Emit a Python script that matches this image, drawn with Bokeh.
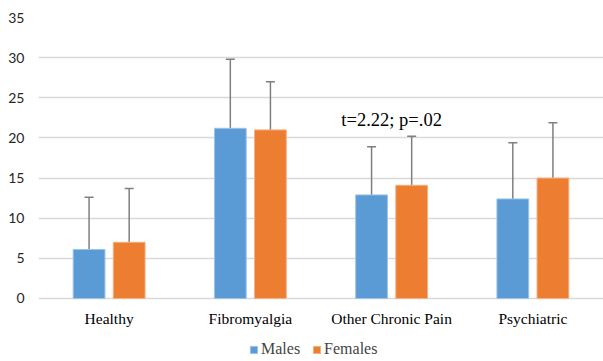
from bokeh.plotting import figure
from bokeh.models import ColumnDataSource, FactorRange, Range1d, Whisker, TeeHead, Legend, LegendItem, FixedTicker
from bokeh.transform import dodge
from bokeh.core.properties import value
from bokeh.embed import file_html
from bokeh.resources import INLINE

categories = ["Healthy", "Fibromyalgia", "Other Chronic Pain", "Psychiatric"]
males = [6.1, 21.2, 12.9, 12.4]
males_sd = [6.5, 8.6, 6.0, 7.0]
females = [7.0, 21.0, 14.1, 15.0]
females_sd = [6.7, 6.0, 6.1, 6.9]
y_ticks = [0, 5, 10, 15, 20, 25, 30, 35]
annotation = "t=2.22; p=.02"
annotation_cat = "Other Chronic Pain"
annotation_y = 22.2

src = ColumnDataSource(dict(
    cat=categories,
    males=males,
    males_top=[m + s for m, s in zip(males, males_sd)],
    females=females,
    females_top=[f + s for f, s in zip(females, females_sd)],
))

# frame extends below zero to leave room for category labels and legend
p = figure(width=603, height=361, x_range=FactorRange(*categories), y_range=Range1d(-7.85, 35),
           output_backend="svg", toolbar_location=None, x_axis_location=None,
           min_border_left=38, min_border_right=0, min_border_top=17, min_border_bottom=0)
p.outline_line_color = None
p.background_fill_color = "white"

OFF = 0.142
W = 0.225
BLUE = "#5B9BD5"
ORANGE = "#ED7D31"

rm = p.vbar(x=dodge("cat", -OFF, range=p.x_range), top="males", width=W, source=src,
            fill_color=BLUE, line_color="#9DC3E6", line_width=1)
rf = p.vbar(x=dodge("cat", OFF, range=p.x_range), top="females", width=W, source=src,
            fill_color=ORANGE, line_color="#F4B183", line_width=1)

for off, lo, hi in [(-OFF, "males", "males_top"), (OFF, "females", "females_top")]:
    w = Whisker(base=dodge("cat", off, range=p.x_range), lower=lo, upper=hi, source=src,
                dimension="height", line_color="#7F7F7F", line_width=1.5,
                lower_head=None,
                upper_head=TeeHead(size=9, line_color="#7F7F7F", line_width=1.5))
    p.add_layout(w)

# category labels under the baseline
p.text(x="cat", y=-2.5, text="cat", source=src, text_align="center", text_baseline="middle",
       text_font=value("Liberation Serif"), text_font_size="15.5px", text_color="#000000")

p.text(x=[annotation_cat], y=[annotation_y], text=[annotation], text_align="center",
       text_baseline="alphabetic", text_font=value("Liberation Serif"),
       text_font_size="18.5px", text_color="#000000")

p.xgrid.grid_line_color = None
p.ygrid.grid_line_color = "#D9D9D9"
p.ygrid.grid_line_width = 1.5
p.yaxis.ticker = FixedTicker(ticks=y_ticks)
p.yaxis.axis_line_color = None
p.yaxis.major_tick_line_color = None
p.yaxis.minor_tick_line_color = None
p.yaxis.major_label_text_font = "Lato"
p.yaxis.major_label_text_font_size = "14px"
p.yaxis.major_label_text_color = "#262626"
p.yaxis.major_label_standoff = 8

legend = Legend(items=[LegendItem(label="Males", renderers=[rm]), LegendItem(label="Females", renderers=[rf])],
                orientation="horizontal", location=(211, 3),
                label_text_font="Liberation Serif", label_text_font_size="16px",
                glyph_width=9, glyph_height=9, label_standoff=3, spacing=12,
                border_line_color=None, background_fill_alpha=0, padding=0, margin=0)
p.add_layout(legend, "center")

open("out.html", "w").write(file_html(p, INLINE))
